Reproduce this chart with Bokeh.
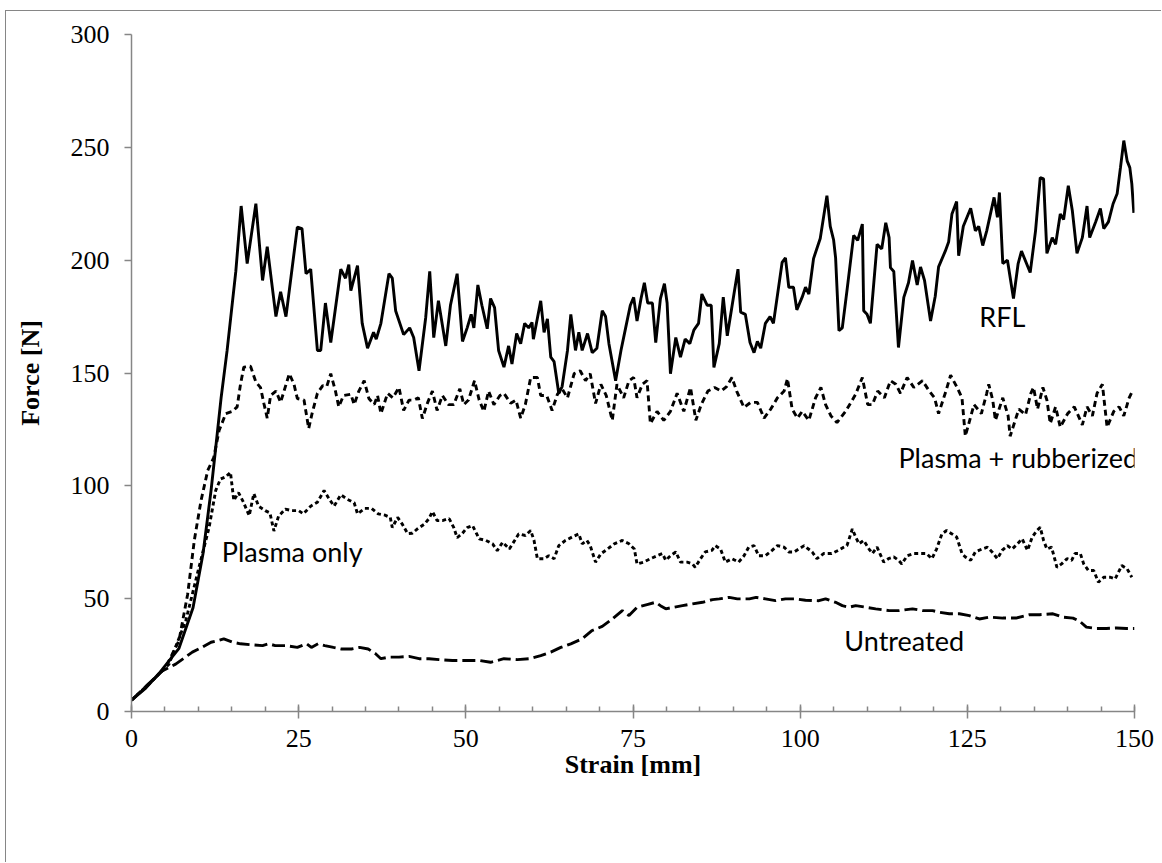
from bokeh.plotting import figure
from bokeh.models import Range1d, FixedTicker, ColumnDataSource
from bokeh.core.properties import value
from bokeh.embed import file_html
from bokeh.resources import INLINE

# ---------------- data ----------------
rfl_x = [0, 2, 4.1, 7.1, 9.2, 10.7, 11.9, 12.6, 13.4, 14.3, 15.6, 16.4, 17.3, 18.6, 19.6, 20.3, 21.6, 22.3, 23.1, 24.8,
         25.5, 26.1, 26.8, 27.8, 28.3, 29.0, 29.8, 31.3, 32.0, 32.5, 32.8, 33.8, 34.5, 35.3, 36.2, 36.6, 37.3, 38.5, 39.0, 39.5,
         40.7, 41.6, 42.2, 43.0, 44.0, 44.6, 45.2, 45.9, 47.0, 47.7, 48.7, 49.5, 50.2, 50.8, 51.2, 51.8, 52.4, 53.2, 53.7, 54.3,
         54.9, 55.7, 56.4, 56.9, 57.6, 58.2, 58.8, 59.4, 59.9, 60.1, 61.2, 61.7, 62.2, 62.7, 63.2, 63.9, 64.4, 65.2, 65.7, 66.4,
         66.9, 67.4, 68.2, 68.9, 69.6, 70.4, 70.9, 71.4, 72.4, 73.2, 73.9, 74.6, 75.1, 75.6, 76.2, 76.7, 77.2, 77.9, 78.4, 79.1,
         79.7, 80.1, 80.6, 81.4, 82.1, 82.8, 83.5, 84.1, 84.8, 85.3, 86.1, 86.7, 87.1, 87.9, 88.5, 89.1, 90.1, 90.7, 91.1, 91.8,
         92.5, 93.1, 93.6, 94.1, 94.8, 95.5, 96.0, 97.3, 97.8, 98.3, 99.0, 99.5, 100.3, 100.8, 101.3, 102.0, 103.0, 104.0, 104.5, 105.0,
         105.3, 105.8, 106.3, 107.0, 108.0, 108.6, 109.3, 109.5, 110.0, 110.5, 111.5, 112.2, 112.8, 113.3, 113.5, 114.0, 114.7, 115.5, 116.2, 116.8,
         117.5, 118.0, 118.6, 119.5, 120.2, 120.7, 121.7, 122.2, 122.7, 123.4, 123.7, 124.4, 125.5, 126.2, 126.7, 127.3, 127.9, 129.0, 129.5, 129.8,
         130.3, 131.0, 131.9, 132.6, 133.1, 134.4, 135.2, 135.9, 136.4, 136.9, 137.7, 138.2, 138.9, 139.4, 140.1, 140.7, 141.4, 142.2, 142.9, 143.3,
         144.2, 144.9, 145.4, 146.1, 146.8, 147.4, 147.9, 148.4, 148.9, 149.3, 149.6, 149.9]
rfl_y = [5, 10, 16.8, 28, 46, 70, 98, 117, 139, 160, 195, 224, 198.5, 225, 191, 206, 175, 186, 175, 214.6,
         214, 194, 196, 160, 160, 181, 163.5, 196, 192, 198, 186.5, 197.6, 172, 161, 168, 165, 172, 194, 192, 177.6,
         167, 170, 165.7, 151, 174.6, 195, 165.7, 182, 162, 180, 194, 164, 170, 176, 170, 189, 180, 169.6, 183, 179,
         160, 152.6, 162, 154, 167.5, 163, 172, 170, 172.4, 165, 182, 168, 174, 157, 155, 141, 144, 160, 176, 160,
         168, 160, 167.5, 159, 161, 177.6, 175, 163, 146.6, 160, 170, 180, 183.5, 173, 183, 190, 181, 181, 163.5, 183,
         189.6, 181, 149.7, 165.7, 157, 165, 163, 169, 172, 185, 180, 180, 152.5, 163, 183.6, 166.5, 185, 196, 177, 176,
         163.5, 159, 164, 161, 172, 175, 172, 199, 201, 188, 188, 178, 183.6, 188, 185, 200.7, 209.6, 228.6, 215, 209,
         201, 168.8, 170, 186.5, 211, 208.8, 216, 177.6, 176, 172, 207, 205, 216.6, 210, 196.7, 195, 161.3, 183.5, 190, 199.8,
         189, 197, 191, 173, 184, 197, 204, 208, 220.5, 226, 202, 215, 223, 213, 215, 206.5, 213, 227.8, 219, 230,
         198.5, 200, 183, 198.5, 204, 194.5, 213, 236.6, 236, 203, 210, 207, 220.5, 218, 233, 222, 203, 210, 224, 210,
         217, 222.9, 214, 217, 225, 229.4, 241, 253, 244, 241, 233.8, 221]

pr_x = [0, 2.1, 5.1, 7.1, 8.4, 9.4, 10.4, 11.4, 12.3, 13.1, 14.1, 15.1, 15.8, 16.3, 16.8, 17.8, 18.6, 19.3, 19.8, 20.3,
        20.8, 21.6, 22.3, 23.6, 24.3, 24.8, 25.8, 26.5, 27.0, 27.8, 28.6, 29.2, 29.8, 30.5, 31.0, 31.7, 32.8, 33.3, 34.0, 34.8,
        35.5, 36.3, 36.8, 37.3, 38.3, 39.1, 40.0, 40.7, 41.5, 42.2, 42.9, 43.5, 44.3, 45.0, 45.7, 46.5, 47.4, 48.2, 49.1, 49.7,
        50.4, 51.3, 52.0, 52.7, 53.4, 54.2, 55.1, 55.7, 56.7, 57.5, 58.2, 58.9, 59.7, 60.7, 61.2, 62.1, 62.9, 63.7, 64.4, 65.2,
        66.2, 67.1, 67.9, 68.6, 69.4, 70.2, 71.0, 71.9, 72.6, 73.6, 74.4, 75.1, 75.6, 76.4, 77.1, 77.6, 78.6, 79.6, 80.6, 81.6,
        82.6, 83.6, 84.4, 85.2, 86.2, 87.2, 88.2, 89.0, 89.8, 90.5, 91.6, 92.6, 93.6, 94.6, 95.6, 96.6, 97.6, 98.1, 98.8, 99.6,
        100.3, 101.3, 102.3, 103.1, 103.8, 104.6, 105.5, 106.8, 107.6, 108.3, 109.3, 110.1, 110.8, 111.6, 112.6, 113.5, 114.3, 115.0, 116.0, 117.0,
        118.3, 119.3, 120.1, 120.7, 121.8, 122.5, 123.4, 124.2, 124.7, 126.0, 127.1, 127.9, 128.2, 128.8, 129.2, 130.3, 131.1, 131.4, 132.7, 133.7,
        134.5, 134.9, 135.5, 136.3, 136.9, 137.4, 138.2, 138.9, 140.0, 141.0, 142.2, 142.9, 143.7, 144.4, 145.2, 145.9, 146.9, 147.7, 148.4, 149.2,
        149.6]
pr_y = [5, 10.6, 19.5, 31.4, 52, 76, 93.5, 106.8, 112.5, 124.5, 132, 133, 135, 145, 152.6, 153, 146, 143.5, 136.5, 130,
        140, 142, 137, 149.7, 145, 138.7, 138, 125.4, 132, 141, 144.4, 144, 149.7, 142, 135, 140, 140.6, 136, 142, 146.6,
        138.7, 136, 140, 132, 141, 139, 143.6, 133.4, 138, 138, 139, 129.8, 137, 142, 133.4, 140, 136, 136, 143, 136,
        138, 146.6, 138, 133, 142, 136, 140, 141, 136.6, 138, 130, 136, 148, 148, 140, 140, 133.4, 140.6, 143, 139,
        149.7, 151, 146.6, 149.7, 136.5, 145, 140, 129, 145, 139, 146.6, 148, 139, 145, 146.6, 127.6, 133, 129, 133, 141,
        133, 143.6, 129, 136, 142, 143.6, 142, 144, 148, 142, 134.7, 137, 137, 130, 134, 139, 142, 147.5, 134, 130,
        133, 129, 139, 143.6, 136, 131, 128, 133, 137, 140.6, 148, 136, 136, 142, 139, 146.6, 145, 141, 148, 143.6,
        146.6, 142, 139, 132, 142, 149, 144, 139, 122, 136, 132, 141, 145, 138, 129, 139, 131, 122, 134, 131.5,
        141, 143.6, 134, 143.6, 138, 127.6, 135, 126, 132, 135, 127, 135, 131, 141, 145, 126, 133, 135, 131, 139,
        141.5]

po_x = [0, 3.1, 5.6, 8.1, 10.1, 11.6, 12.6, 13.3, 14.1, 14.8, 15.3, 16.0, 16.7, 17.6, 18.3, 19.0, 20.0, 20.7, 21.3, 22.0,
        23.0, 24.0, 25.0, 25.7, 26.8, 27.8, 28.8, 29.6, 30.3, 31.3, 32.3, 33.3, 33.8, 34.9, 35.9, 36.9, 37.9, 38.7, 39.0, 39.8,
        40.5, 41.3, 42.0, 42.8, 43.8, 44.5, 45.0, 45.7, 46.5, 47.5, 48.2, 48.7, 49.5, 50.2, 51.0, 52.0, 53.0, 54.0, 54.7, 55.5,
        56.5, 57.3, 57.9, 58.9, 59.7, 60.2, 60.7, 61.7, 62.4, 63.2, 63.9, 64.9, 65.9, 66.9, 67.4, 68.1, 68.6, 69.4, 70.2, 71.2,
        72.2, 73.4, 74.4, 75.2, 75.6, 76.6, 77.6, 78.6, 79.4, 79.9, 80.6, 81.4, 82.1, 83.1, 83.9, 84.3, 85.1, 85.8, 86.8, 87.3,
        88.1, 88.8, 89.8, 90.8, 91.6, 92.3, 93.1, 93.8, 94.8, 95.8, 96.6, 97.6, 98.3, 99.1, 99.8, 100.6, 101.8, 102.5, 103.5, 104.7,
        105.7, 106.5, 107.0, 107.8, 108.3, 108.8, 109.5, 110.3, 110.8, 111.5, 112.5, 113.2, 114.0, 114.7, 115.2, 116.0, 117.0, 118.0, 118.9, 119.7,
        120.4, 121.2, 121.9, 122.7, 123.4, 123.9, 124.2, 124.7, 125.5, 126.2, 127.2, 128.0, 128.7, 129.5, 130.2, 131.0, 131.7, 132.5, 133.2, 134.0,
        134.7, 135.4, 135.9, 136.4, 136.9, 137.6, 138.4, 139.1, 139.9, 140.6, 141.1, 141.9, 142.4, 143.1, 143.9, 144.6, 145.4, 146.4, 147.1, 148.1,
        148.9, 149.6]
po_y = [5, 13.6, 21, 40, 64, 81.5, 98, 103, 104, 106, 93.5, 97, 93, 86.8, 96.6, 91, 89, 88, 80, 86.6,
        89.7, 89, 89, 87.6, 91, 92.7, 97.9, 94, 91, 96, 94, 92.5, 87.6, 90, 90, 87.6, 87, 86, 81.5, 86,
        83, 78.8, 79, 81, 83, 85.5, 88.6, 84.6, 84.6, 85.5, 81.5, 77, 79, 81.5, 82.4, 76.5, 75.8, 74.3, 71.3, 75,
        72, 75.8, 78.7, 78, 80.2, 75.8, 67.7, 67.7, 69, 67.7, 73.5, 75.8, 77.3, 78.7, 74.3, 75.8, 73.5, 66.2, 69.9, 72,
        74.3, 75.8, 74.3, 72, 65.4, 66.2, 67.7, 69, 70, 67, 69, 70.7, 66.2, 66.2, 65.4, 63.9, 67.7, 70.7, 71.4, 73.5,
        72, 66.2, 67.7, 66.2, 69, 72.8, 73.5, 69, 69, 71.4, 73.5, 72.8, 70.7, 70.7, 72, 73.5, 70.7, 67.7, 70, 70,
        71.4, 72.8, 73.5, 80.9, 77.3, 74.3, 75.8, 72, 70, 72.8, 66.2, 67.7, 68.5, 67, 65.4, 69, 70, 70, 70, 67.7,
        72, 78.7, 80.2, 78.7, 77.3, 72.8, 70, 68.5, 67, 70.7, 72, 72.8, 70.7, 67.7, 71.4, 73.5, 72, 74.3, 76.5, 71.4,
        77.3, 80.2, 81.6, 75.8, 72, 72.8, 63.9, 65.4, 67.7, 67, 70, 70, 65.4, 62.5, 62.5, 57.3, 59.5, 59.5, 58.7, 64.7,
        63.2, 59.5]

ut_x = [0, 2.1, 4.6, 6.6, 9.1, 10.6, 11.9, 12.9, 13.8, 15.1, 16.3, 17.8, 19.6, 20.5, 21.5, 23.0, 24.8, 26.2, 26.9, 27.9,
        28.9, 30.2, 31.4, 32.9, 34.1, 35.4, 36.5, 37.3, 38.5, 40.0, 41.5, 43.0, 44.5, 46.0, 48.0, 50.0, 52.0, 53.7, 55.7, 57.7,
        59.5, 61.2, 62.7, 64.2, 65.7, 67.4, 68.9, 70.4, 71.9, 73.4, 74.4, 75.6, 77.1, 78.4, 79.1, 79.9, 81.1, 82.4, 83.9, 85.4,
        86.9, 87.9, 89.4, 90.6, 92.4, 93.4, 94.8, 96.3, 97.8, 99.3, 100.8, 102.8, 103.8, 105.3, 106.3, 107.3, 108.3, 109.8, 111.3, 113.3,
        114.8, 116.8, 118.3, 119.8, 120.8, 122.3, 123.8, 125.3, 126.8, 128.3, 130.3, 132.3, 134.3, 135.8, 137.8, 139.3, 140.8, 141.8, 142.8, 144.3,
        145.8, 147.3, 148.8, 150.0]
ut_y = [5, 11, 18, 21, 26.3, 28.5, 30.7, 31.4, 32.2, 30.7, 30, 29.6, 29.2, 30, 29.2, 29.2, 28.4, 30, 28.4, 30,
        29.2, 28.4, 27.7, 27.7, 28.4, 27.7, 25.6, 23.4, 24.1, 24.1, 24.4, 23.4, 23.4, 23, 22.6, 22.6, 22.6, 21.8, 23.4, 23,
        23.4, 24.8, 26.3, 28.4, 30, 32.2, 35.9, 37.7, 41, 44.7, 42.5, 46.2, 47.4, 48.4, 46.9, 45.5, 46.2, 46.9, 47.7, 48.4,
        49.6, 49.9, 50.6, 49.9, 49.9, 50.6, 49.9, 49.1, 49.9, 49.9, 49.3, 49.1, 49.9, 48.4, 46.9, 46.2, 46.9, 46.2, 45.5, 44.7,
        44.7, 45.5, 44.7, 44.7, 44, 43.3, 43.3, 42.5, 41, 41.8, 41.4, 41.4, 42.9, 42.9, 43.3, 41.8, 41.4, 40, 37.4, 36.8,
        36.8, 37, 36.8, 36.8]

label_text = ["RFL", "Plasma + rubberized", "Plasma only", "Untreated"]
label_x = [126.8, 114.7, 13.5, 106.6]
label_y = [175, 112.5, 71, 31.5]

x_ticks = [0, 25, 50, 75, 100, 125, 150]
y_ticks = [0, 50, 100, 150, 200, 250, 300]

# ---------------- figure ----------------
AX = "#868686"
p = figure(width=1156, height=852, output_backend="svg", toolbar_location=None,
           x_range=Range1d(0, 150), y_range=Range1d(0, 300),
           min_border_left=125, min_border_right=28, min_border_top=23, min_border_bottom=152)
p.styles = {"margin-left": "5px", "margin-top": "10px",
            "border-left": "1px solid " + AX, "border-top": "1px solid " + AX}
p.background_fill_color = "white"
p.border_fill_color = "white"
p.outline_line_color = None
p.grid.visible = False

# x axis
xa = p.xaxis[0]
xa.ticker = FixedTicker(ticks=x_ticks, minor_ticks=list(range(0, 151, 5)))
xa.axis_line_color = AX
xa.axis_line_width = 1.5
xa.major_tick_line_color = AX
xa.major_tick_line_width = 1.5
xa.major_tick_in = 7
xa.major_tick_out = 7
xa.minor_tick_line_color = AX
xa.minor_tick_line_width = 1.5
xa.minor_tick_in = 5
xa.minor_tick_out = 0
xa.major_label_text_font = "Liberation Serif"
xa.major_label_text_font_size = "26px"
xa.major_label_text_color = "black"
xa.major_label_standoff = 11
xa.axis_label = "Strain [mm]"
xa.axis_label_text_font = "Liberation Serif"
xa.axis_label_text_font_style = "bold"
xa.axis_label_text_font_size = "26px"
xa.axis_label_text_color = "black"
xa.axis_label_standoff = 0

# y axis
ya = p.yaxis[0]
ya.ticker = FixedTicker(ticks=y_ticks)
ya.axis_line_color = AX
ya.axis_line_width = 1.5
ya.major_tick_line_color = AX
ya.major_tick_line_width = 1.5
ya.major_tick_in = 0
ya.major_tick_out = 7
ya.minor_tick_in = 0
ya.minor_tick_out = 0
ya.major_label_text_font = "Liberation Serif"
ya.major_label_text_font_size = "26px"
ya.major_label_text_color = "black"
ya.major_label_standoff = 15
ya.axis_label = "Force [N]"
ya.axis_label_text_font = "Liberation Serif"
ya.axis_label_text_font_style = "bold"
ya.axis_label_text_font_size = "26px"
ya.axis_label_text_color = "black"
ya.axis_label_standoff = 23

# series
p.line(ut_x, ut_y, line_color="black", line_width=2.9, line_dash="13 5")
p.line(po_x, po_y, line_color="black", line_width=2.9, line_dash="4 3")
p.line(pr_x, pr_y, line_color="black", line_width=2.9, line_dash="6 4")
p.line(rfl_x, rfl_y, line_color="black", line_width=2.9)

src = ColumnDataSource(dict(x=label_x, y=label_y, t=label_text))
p.text(x="x", y="y", text="t", source=src, text_font=value("Lato"), text_font_size="27px",
       text_color="black", text_align="left", text_baseline="middle")

open("out.html", "w").write(file_html(p, INLINE))
